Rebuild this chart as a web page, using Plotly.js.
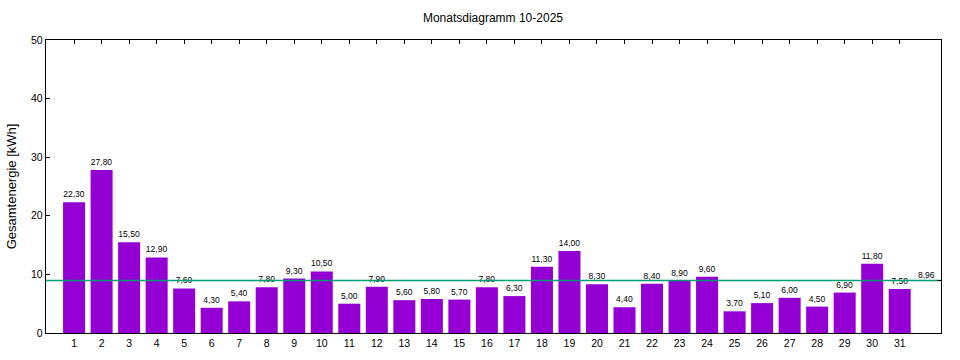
<!DOCTYPE html>
<html>
<head>
<meta charset="utf-8">
<script src="https://cdn.plot.ly/plotly-3.0.1.min.js"></script>
<style>html,body{margin:0;padding:0;background:#fff;}</style>
</head>
<body>
<div id="chart" style="width:960px;height:360px;"></div>
<script>
const days = [1,2,3,4,5,6,7,8,9,10,11,12,13,14,15,16,17,18,19,20,21,22,23,24,25,26,27,28,29,30,31];
const energy = [22.3,27.8,15.5,12.9,7.6,4.3,5.4,7.8,9.3,10.5,5.0,7.9,5.6,5.8,5.7,7.8,6.3,11.3,14.0,8.3,4.4,8.4,8.9,9.6,3.7,5.1,6.0,4.5,6.9,11.8,7.5];
const average = 8.96;
const yTicks = [0,10,20,30,40,50];
const titleText = 'Monatsdiagramm 10-2025';
const yTitle = 'Gesamtenergie [kWh]';

const font = 'Liberation Sans, Arial, sans-serif';

const bars = {
  type: 'bar',
  x: days,
  y: energy,
  width: 0.8,
  marker: {color: '#9400d3', line: {width: 0}},
  texttemplate: '%{y:.2f}',
  textposition: 'outside',
  cliponaxis: false,
  textfont: {family: font, size: 8.5, color: '#000'},
  hoverinfo: 'x+y'
};

const avgTrace = {
  type: 'scatter',
  mode: 'lines',
  x: [-0.02, 32.5],
  y: [average, average],
  line: {color: '#009e73', width: 1.3},
  hoverinfo: 'skip',
  yaxis: 'y2'
};

const layout = {
  width: 960, height: 360,
  margin: {l: 46, r: 19, t: 40, b: 27, pad: 0},
  paper_bgcolor: '#fff', plot_bgcolor: '#fff',
  separators: ',.',
  showlegend: false,
  font: {family: font, size: 10, color: '#000'},
  title: {text: titleText, x: 0.5135, xanchor: 'center', y: 0.95, yanchor: 'middle', font: {family: font, size: 12, color: '#000'}},
  bargap: 0.2,
  xaxis: {
    range: [-0.02, 32.5],
    tickvals: days, ticktext: days.map(String),
    ticks: 'inside', ticklen: 4, tickcolor: '#000',
    showline: true, linecolor: '#000', linewidth: 1.2, mirror: 'ticks',
    showgrid: false, zeroline: false, layer: 'below traces',
    tickfont: {family: font, size: 10.5, color: '#000'}
  },
  yaxis: {
    range: [0, 50],
    tickvals: yTicks,
    ticks: 'inside', ticklen: 4, tickcolor: '#000',
    showline: true, linecolor: '#000', linewidth: 1.2, mirror: true,
    showgrid: false, zeroline: false, layer: 'below traces',
    tickfont: {family: font, size: 10.5, color: '#000'},
    title: {text: yTitle, standoff: 11, font: {family: font, size: 13, color: '#000'}}
  },
  yaxis2: {
    range: [0, 50], overlaying: 'y', side: 'right',
    tickvals: [average], ticktext: [''],
    ticks: 'inside', ticklen: 4, tickcolor: '#000',
    showline: false, showgrid: false, zeroline: false
  },
  annotations: [{
    xref: 'paper', yref: 'y', x: 0.996, y: average,
    xanchor: 'right', yanchor: 'bottom', yshift: -2,
    text: average.toFixed(2).replace('.', ','), showarrow: false,
    font: {family: font, size: 8.5, color: '#000'}
  }]
};

Plotly.newPlot('chart', [bars, avgTrace], layout, {displayModeBar: false, staticPlot: true});
</script>
</body>
</html>
